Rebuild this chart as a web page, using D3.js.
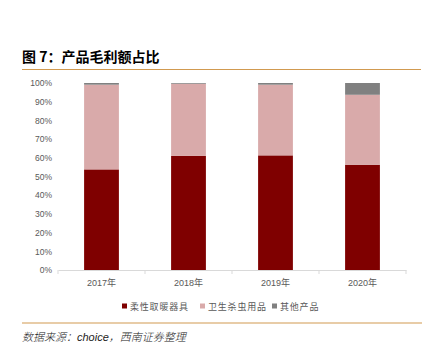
<!DOCTYPE html>
<html>
<head>
<meta charset="utf-8">
<script src="https://cdn.jsdelivr.net/npm/d3@7"></script>
<style>
  body { margin: 0; background: #fff; }
  svg { display: block; font-family: "Liberation Sans", "Noto Sans CJK SC", sans-serif; }
</style>
</head>
<body>
<svg id="chart"></svg>
<script>
const width = 429;
const height = 354;

// data (percent of gross profit)
const years = ["2017年", "2018年", "2019年", "2020年"];
const heaters = [53.8, 61.0, 61.3, 56.3];
const insecticide = [45.3, 38.6, 37.8, 37.4];
const others = [0.9, 0.4, 0.9, 6.3];
const seriesNames = ["柔性取暖器具", "卫生杀虫用品", "其他产品"];
const colors = ["#7f0000", "#d9aaaa", "#808080"];
const yTicks = [0, 10, 20, 30, 40, 50, 60, 70, 80, 90, 100];

const svg = d3.select("#chart")
  .attr("width", width)
  .attr("height", height);

// title
svg.append("text")
  .attr("x", 22)
  .attr("y", 62)
  .attr("font-family", "Noto Sans CJK SC")
  .attr("font-weight", "bold")
  .attr("font-size", 14)
  .attr("fill", "#000")
  .text("图 7：产品毛利额占比");

svg.append("line")
  .attr("x1", 22).attr("x2", 421)
  .attr("y1", 69.5).attr("y2", 69.5)
  .attr("stroke", "#d19a50")
  .attr("stroke-width", 1.2);

const margin = { top: 83, left: 58, right: 23, bottom: 84 };
const innerHeight = height - margin.top - margin.bottom;

const g = svg.append("g")
  .attr("transform", `translate(${margin.left},${margin.top})`);

const x = d3.scaleBand()
  .domain(years)
  .range([0, 348])
  .paddingInner(0.6)
  .paddingOuter(0.3);

const y = d3.scaleLinear()
  .domain([0, 100])
  .range([innerHeight, 0]);

// stack
const rows = years.map((yr, i) => ({
  year: yr,
  [seriesNames[0]]: heaters[i],
  [seriesNames[1]]: insecticide[i],
  [seriesNames[2]]: others[i]
}));
const stacked = d3.stack().keys(seriesNames)(rows);

g.selectAll(".layer")
  .data(stacked)
  .enter()
  .append("g")
  .attr("fill", (d, i) => colors[i])
  .selectAll("rect")
  .data(d => d)
  .enter()
  .append("rect")
  .attr("x", d => x(d.data.year))
  .attr("y", d => y(d[1]))
  .attr("width", x.bandwidth())
  .attr("height", d => y(d[0]) - y(d[1]));

// y axis
const yAxis = d3.axisLeft(y)
  .tickValues(yTicks)
  .tickFormat(d => d + "%")
  .tickSize(0)
  .tickPadding(6);
const yAxisG = g.append("g").call(yAxis);
yAxisG.select(".domain").remove();
yAxisG.selectAll("text")
  .attr("fill", "#595959")
  .attr("font-size", 8.5)
  .attr("font-family", "Liberation Sans");

// x axis
const xAxis = d3.axisBottom(x)
  .tickSize(0)
  .tickPadding(10);
const xAxisG = g.append("g")
  .attr("transform", `translate(0,${innerHeight})`)
  .call(xAxis);
xAxisG.select(".domain").attr("stroke", "#d9d9d9");
xAxisG.selectAll("text")
  .attr("fill", "#595959")
  .attr("font-size", 9)
  .attr("font-family", "Liberation Sans, Noto Sans CJK SC");

// small separator ticks between categories
xAxisG.selectAll(".sep")
  .data(d3.range(years.length + 1))
  .enter()
  .append("line")
  .attr("x1", i => i * x.step())
  .attr("x2", i => i * x.step())
  .attr("y1", 0)
  .attr("y2", 4)
  .attr("stroke", "#d9d9d9");

// legend
const legendX = [122, 200, 272];
const legend = svg.append("g").attr("transform", "translate(0,307)");
seriesNames.forEach((name, i) => {
  legend.append("rect")
    .attr("x", legendX[i])
    .attr("y", -3.5)
    .attr("width", 5)
    .attr("height", 5)
    .attr("fill", colors[i]);
  legend.append("text")
    .attr("x", legendX[i] + 8)
    .attr("y", 3)
    .attr("font-family", "Noto Sans CJK SC")
    .attr("font-size", 9)
    .attr("letter-spacing", 0.8)
    .attr("fill", "#595959")
    .text(name);
});

// source
svg.append("line")
  .attr("x1", 22).attr("x2", 422)
  .attr("y1", 323).attr("y2", 323)
  .attr("stroke", "#d19a50")
  .attr("stroke-width", 1.2);

svg.append("text")
  .attr("x", 22)
  .attr("y", 341)
  .attr("font-family", "Liberation Sans, Noto Sans CJK SC")
  .attr("font-style", "italic")
  .attr("font-weight", 300)
  .attr("font-size", 11)
  .attr("fill", "#222")
  .text("数据来源：choice，西南证券整理");
</script>
</body>
</html>
